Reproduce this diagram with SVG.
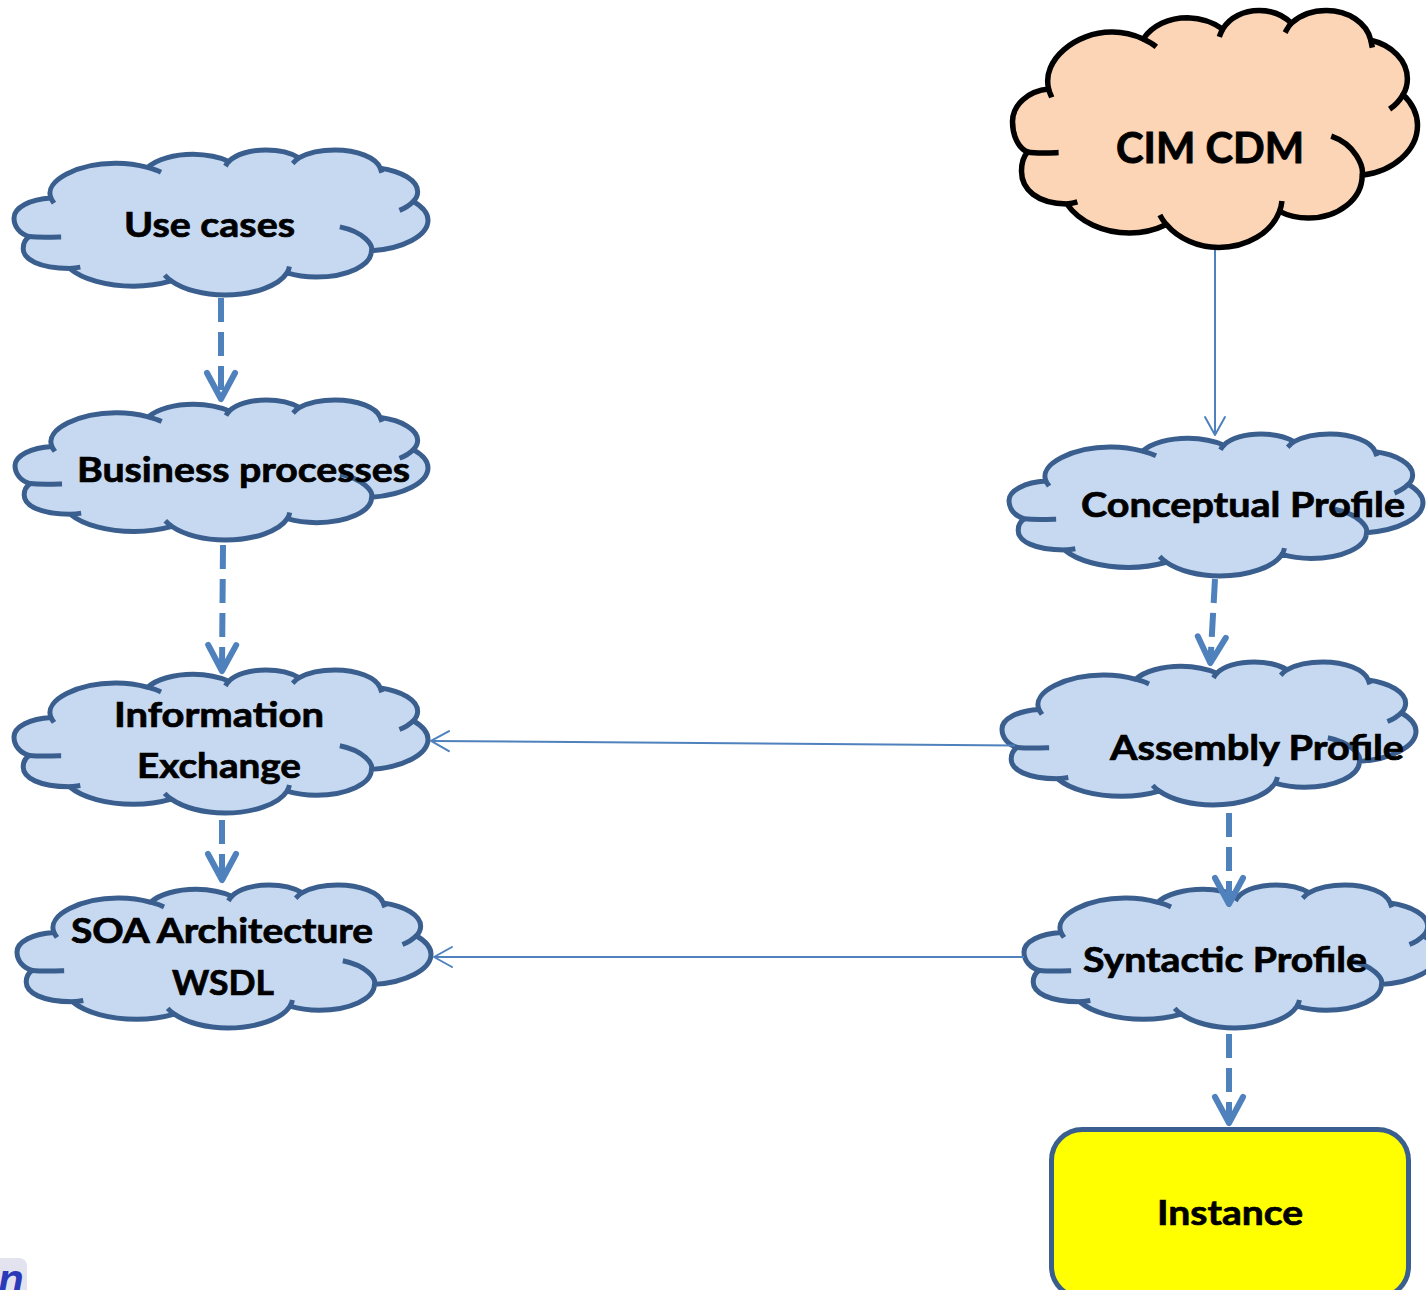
<svg xmlns="http://www.w3.org/2000/svg" xmlns:xlink="http://www.w3.org/1999/xlink" width="1426" height="1290" viewBox="0 0 1426 1290">
<style>
.cloud{fill:#c6d9f1;stroke:#3a5f8f;stroke-width:5;stroke-linejoin:round}
.arcs{fill:none;stroke:#3a5f8f;stroke-width:5;stroke-linecap:butt}
.cim .cloud{fill:#fbd5b5;stroke:#000;stroke-width:5.5}
.cim .arcs{fill:none;stroke:#000;stroke-width:5.5}
.lbl{font-family:Lato,"Liberation Sans",sans-serif;font-weight:bold;font-size:34px;fill:#000;stroke:#000;stroke-width:0.7}
.big{font-size:42px;stroke-width:0.9}
.dash{fill:none;stroke:#4f81bd;stroke-width:6;stroke-dasharray:24 10;marker-end:url(#ahThick)}
.thin{fill:none;stroke:#4f81bd;stroke-width:2;marker-end:url(#ahThin)}
</style>
<defs>
<path id="cloudOutline" vector-effect="non-scaling-stroke" d="M1930,7160 C1530,4490 3400,1970 5270,1970 C5860,1950 6470,2210 6970,2600 C7450,1390 8340,650 9340,650 C10004,690 10710,1050 11210,1700 C11570,630 12330,0 13150,0 C13840,0 14470,460 14870,1160 C15330,440 16020,0 16740,0 C17910,0 18900,1130 19110,2710 C20240,3150 21060,4580 21060,6220 C21060,6720 21000,7200 20830,7660 C21310,8460 21600,9450 21600,10460 C21600,12750 20310,14680 18650,15010 C18650,17200 17370,18920 15770,18920 C15220,18920 14700,18710 14240,18310 C13820,20240 12490,21600 11000,21600 C9890,21600 8840,20790 8210,19510 C7620,20000 6990,20290 6240,20290 C4850,20290 3570,19280 2900,17640 C1300,17600 480,16300 480,14660 C480,13900 580,13300 800,12900 C300,12500 0,11400 0,10120 C0,8590 840,7330 1930,7160 Z"/>
<path id="cloudArcs" vector-effect="non-scaling-stroke" d="M1930,7160 C1950,7410 2040,7690 2090,7920 M6970,2600 C7200,2790 7480,3050 7670,3310 M11210,1700 C11130,1910 11080,2160 11030,2400 M14870,1160 C14720,1400 14640,1720 14540,2010 M19110,2710 C19130,2890 19160,3130 19190,3380 M20830,7660 C20660,8170 20430,8620 20110,8990 M18650,15010 C18740,14200 18280,12200 17000,11450 M14240,18310 C14320,17980 14350,17680 14370,17360 M8210,19510 C8060,19250 7960,18950 7860,18640 M2900,17640 C3090,17600 3280,17540 3460,17450 M800,12900 C1300,13050 1800,13000 2460,12950"/>
<marker id="ahThick" markerUnits="userSpaceOnUse" viewBox="-34 -20 40 40" markerWidth="40" markerHeight="40" refX="-3" refY="0" orient="auto">
<path d="M-26,-14 L0,0 L-26,14" fill="none" stroke="#4f81bd" stroke-width="6" stroke-linecap="round" stroke-linejoin="round"/>
</marker>
<marker id="ahThin" markerUnits="userSpaceOnUse" viewBox="-22 -14 26 28" markerWidth="26" markerHeight="28" refX="-1" refY="0" orient="auto">
<path d="M-18,-10 L0,0 L-18,10" fill="none" stroke="#4f81bd" stroke-width="2" stroke-linecap="round" stroke-linejoin="round"/>
</marker>
</defs>
<rect width="1426" height="1290" fill="#fff"/>

<g id="use-cases">
<g transform="translate(14,150) scale(0.019167,0.0067130)"><use xlink:href="#cloudOutline" class="cloud"/><use xlink:href="#cloudArcs" class="arcs"/></g>
<text class="lbl" x="124" y="237" textLength="171" lengthAdjust="spacingAndGlyphs">Use cases</text>
</g>

<g id="business-processes">
<g transform="translate(15,400) scale(0.019120,0.0064815)"><use xlink:href="#cloudOutline" class="cloud"/><use xlink:href="#cloudArcs" class="arcs"/></g>
<text class="lbl" x="77" y="482" textLength="333" lengthAdjust="spacingAndGlyphs">Business processes</text>
</g>

<g id="information-exchange">
<g transform="translate(14,670) scale(0.019167,0.0066204)"><use xlink:href="#cloudOutline" class="cloud"/><use xlink:href="#cloudArcs" class="arcs"/></g>
<text class="lbl" x="114" y="727" textLength="210" lengthAdjust="spacingAndGlyphs">Information</text>
<text class="lbl" x="137" y="778" textLength="164" lengthAdjust="spacingAndGlyphs">Exchange</text>
</g>

<g id="soa-architecture">
<g transform="translate(17,885) scale(0.019167,0.0066204)"><use xlink:href="#cloudOutline" class="cloud"/><use xlink:href="#cloudArcs" class="arcs"/></g>
<text class="lbl" x="71" y="943" textLength="302" lengthAdjust="spacingAndGlyphs">SOA Architecture</text>
<text class="lbl" x="172" y="995" textLength="102" lengthAdjust="spacingAndGlyphs">WSDL</text>
</g>

<g id="cim-cdm" class="cim">
<g transform="translate(1012.5,10.5) scale(0.018750,0.010972)"><use xlink:href="#cloudOutline" class="cloud"/><use xlink:href="#cloudArcs" class="arcs"/></g>
<text class="lbl big" x="1116" y="163" textLength="188" lengthAdjust="spacingAndGlyphs">CIM CDM</text>
</g>

<g id="conceptual-profile">
<g transform="translate(1009,434) scale(0.019167,0.0065741)"><use xlink:href="#cloudOutline" class="cloud"/><use xlink:href="#cloudArcs" class="arcs"/></g>
<text class="lbl" x="1081" y="517" textLength="324" lengthAdjust="spacingAndGlyphs">Conceptual Profile</text>
</g>

<g id="assembly-profile">
<g transform="translate(1002,662) scale(0.019167,0.0066204)"><use xlink:href="#cloudOutline" class="cloud"/><use xlink:href="#cloudArcs" class="arcs"/></g>
<text class="lbl" x="1110" y="760" textLength="294" lengthAdjust="spacingAndGlyphs">Assembly Profile</text>
</g>

<g id="syntactic-profile">
<g transform="translate(1024,885) scale(0.019167,0.0066204)"><use xlink:href="#cloudOutline" class="cloud"/><use xlink:href="#cloudArcs" class="arcs"/></g>
<text class="lbl" x="1083" y="972" textLength="284" lengthAdjust="spacingAndGlyphs">Syntactic Profile</text>
</g>

<g id="instance">
<rect x="1051.5" y="1129.5" width="357" height="168" rx="31" fill="#ffff00" stroke="#3a5f8f" stroke-width="5"/>
<text class="lbl" x="1157" y="1225" textLength="146" lengthAdjust="spacingAndGlyphs">Instance</text>
</g>

<g id="connectors">
<path class="dash" d="M221,298 L221,396"/>
<path class="dash" d="M223,545 L222,668"/>
<path class="dash" d="M222,820 L222,877"/>
<path class="thin" d="M1215,250 L1215,434"/>
<path class="dash" d="M1215,579 L1210.5,660"/>
<path class="dash" d="M1229,813 L1229,901"/>
<path class="dash" d="M1229,1034 L1229,1120"/>
<path class="thin" d="M1015,745.5 L432,741"/>
<path class="thin" d="M1024,957 L435,957"/>
</g>

<g id="corner-fragment">
<rect x="-10" y="1258" width="37" height="50" rx="8" fill="#e3e3f0"/>
<text x="-2" y="1294" font-family="Liberation Sans, sans-serif" font-weight="bold" font-style="italic" font-size="42" fill="#2a3ab8">n</text>
</g>
</svg>
